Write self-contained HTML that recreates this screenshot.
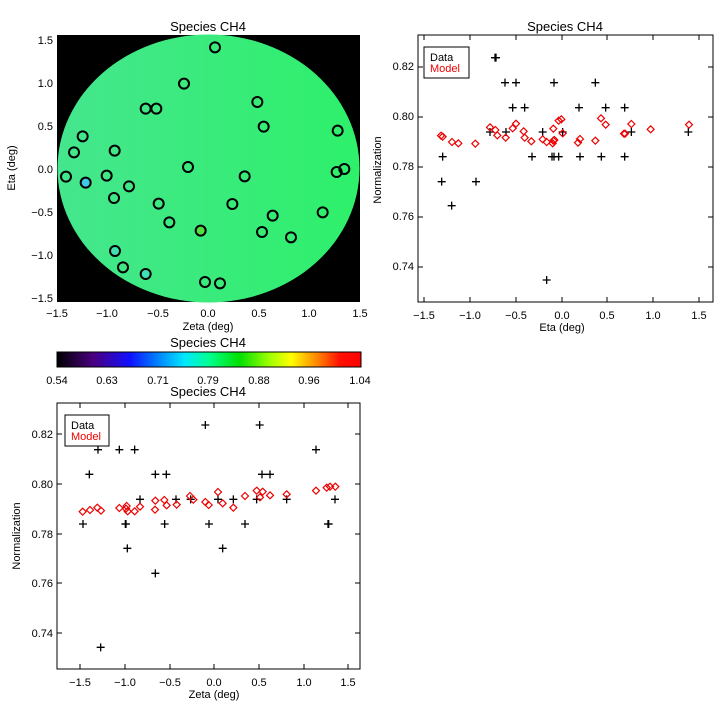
<!DOCTYPE html>
<html><head><meta charset="utf-8"><style>
body{margin:0;background:#fff}
svg{display:block}
text{font-family:"Liberation Sans","DejaVu Sans",sans-serif;font-size:11px;fill:#000}
.t{font-size:13px}
</style></head><body>
<svg id="s" width="720" height="720" viewBox="0 0 720 720" xmlns="http://www.w3.org/2000/svg">
<defs>
<linearGradient id="fg" x1="0" x2="1" y1="0" y2="0">
<stop offset="0" stop-color="#45e68e"/><stop offset="1" stop-color="#2ef06a"/></linearGradient>
<linearGradient id="cb" x1="0" x2="1" y1="0" y2="0">
<stop offset="0" stop-color="#000"/><stop offset="0.12" stop-color="#4a0080"/>
<stop offset="0.24" stop-color="#1010ff"/><stop offset="0.33" stop-color="#0080ff"/>
<stop offset="0.42" stop-color="#00e8ff"/><stop offset="0.5" stop-color="#00ff90"/>
<stop offset="0.6" stop-color="#00e000"/><stop offset="0.7" stop-color="#a0ff00"/>
<stop offset="0.77" stop-color="#ffff00"/><stop offset="0.86" stop-color="#ff8000"/>
<stop offset="0.93" stop-color="#ff1000"/><stop offset="1" stop-color="#ff0000"/></linearGradient>
</defs>
<!-- top-left map -->
<text class="t" x="208" y="31" text-anchor="middle">Species CH4</text>
<rect x="57" y="35" width="303" height="267" fill="#000"/>
<ellipse cx="208.5" cy="168.5" rx="151" ry="134" fill="url(#fg)"/>
<g id="circ" fill="none" stroke="#000" stroke-width="2"></g>
<g text-anchor="end">
<text x="53" y="44">1.5</text><text x="53" y="87">1.0</text><text x="53" y="130">0.5</text><text x="53" y="173">0.0</text><text x="53" y="216">−0.5</text><text x="53" y="259">−1.0</text><text x="53" y="302">−1.5</text></g>
<g text-anchor="middle">
<text x="57" y="317">−1.5</text><text x="107" y="317">−1.0</text><text x="158" y="317">−0.5</text><text x="208" y="317">0.0</text><text x="259" y="317">0.5</text><text x="309" y="317">1.0</text><text x="360" y="317">1.5</text>
<text x="208" y="330" font-size="10">Zeta (deg)</text></g>
<text transform="translate(15,168) rotate(-90)" text-anchor="middle" font-size="10">Eta (deg)</text>
<!-- colorbar -->
<text class="t" x="208" y="347" text-anchor="middle">Species CH4</text>
<rect x="57" y="352" width="304" height="15" fill="url(#cb)" stroke="#000"/>
<g text-anchor="middle">
<text x="57" y="384">0.54</text><text x="107" y="384">0.63</text><text x="158" y="384">0.71</text><text x="208" y="384">0.79</text><text x="259" y="384">0.88</text><text x="309" y="384">0.96</text><text x="360" y="384">1.04</text>
<text class="t" x="208" y="396">Species CH4</text></g>
<!-- top-right -->
<text class="t" x="565" y="31" text-anchor="middle">Species CH4</text>
<rect x="418" y="35" width="295" height="267" fill="none" stroke="#000"/>
<g id="tr"></g>
<rect x="424" y="47" width="45" height="31" fill="none" stroke="#000"/>
<text x="430" y="61" font-size="10">Data</text><text x="430" y="72" font-size="10" style="fill:#e00">Model</text>
<g text-anchor="end">
<text x="414" y="70">0.82</text><text x="414" y="120">0.80</text><text x="414" y="170">0.78</text><text x="414" y="220">0.76</text><text x="414" y="270">0.74</text></g>
<g text-anchor="middle">
<text x="424" y="319">−1.5</text><text x="470" y="319">−1.0</text><text x="516" y="319">−0.5</text><text x="562" y="319">0.0</text><text x="607" y="319">0.5</text><text x="653" y="319">1.0</text><text x="699" y="319">1.5</text>
<text x="562" y="331" font-size="10">Eta (deg)</text></g>
<text transform="translate(381,170) rotate(-90)" text-anchor="middle" font-size="10">Normalization</text>
<!-- bottom -->
<rect x="57" y="403" width="303" height="266" fill="none" stroke="#000"/>
<g id="bt"></g>
<rect x="65" y="415" width="44" height="31" fill="none" stroke="#000"/>
<text x="71" y="429" font-size="10">Data</text><text x="71" y="440" font-size="10" style="fill:#e00">Model</text>
<g text-anchor="end">
<text x="53" y="438">0.82</text><text x="53" y="488">0.80</text><text x="53" y="538">0.78</text><text x="53" y="587">0.76</text><text x="53" y="637">0.74</text></g>
<g text-anchor="middle">
<text x="80" y="686">−1.5</text><text x="125" y="686">−1.0</text><text x="170" y="686">−0.5</text><text x="214" y="686">0.0</text><text x="259" y="686">0.5</text><text x="304" y="686">1.0</text><text x="348" y="686">1.5</text>
<text x="214" y="698" font-size="10">Zeta (deg)</text></g>
<text transform="translate(20,536) rotate(-90)" text-anchor="middle" font-size="10">Normalization</text>
</svg>
<script>
var NS="http://www.w3.org/2000/svg";
function el(p,t,a){var e=document.createElementNS(NS,t);for(var k in a)e.setAttribute(k,a[k]);p.appendChild(e);}
var circ=document.getElementById('circ');
var C=[[645,82],[552,191],[437,266],[469,266],[772,246],[791,320],[1013,332],[248,349],[222,397],[344,392],[564,441],[1033,447],[1010,456],[198,470],[320,467],[257,488,'#3fc8e8'],[387,499],[734,469],[342,534],[476,551],[697,552],[968,577],[508,607],[818,587],[602,632,'#50e040'],[786,636],[873,652],[345,693,'#40e0b0'],[369,742],[437,762,'#40e0b8'],[615,786],[660,790]];
C.forEach(function(c){el(circ,'circle',{cx:c[0]/3,cy:20+c[1]/3,r:5,fill:c[2]||'none'});});
function plus(g,x,y){el(g,'path',{d:'M'+(x-4)+' '+y+'h8M'+x+' '+(y-4)+'v8',stroke:'#000','stroke-width':1.3});}
function dia(g,x,y){el(g,'path',{d:'M'+x+' '+(y-3.5)+'l3.5 3.5l-3.5 3.5l-3.5 -3.5z',stroke:'#e00','stroke-width':1.2,fill:'none'});}
var tr=document.getElementById('tr');
[[378,113],[375,113],[405,188],[438,188],[552,188],[676,188],[428,263],[464,263],[627,263],[707,263],[764,263],[360,336],[408,336],[518,336],[578,336],[784,336],[955,336],[218,410],[486,410],[546,410],[552,410],[566,410],[630,410],[694,410],[764,410],[215,485],[318,485],[245,557],[530,780]].forEach(function(p){plus(tr,370+p[0]/3,20+p[1]/3);});
[[213,347],[218,350],[246,366],[265,370],[316,371],[360,322],[376,330],[382,346],[407,353],[428,325],[438,311],[461,334],[464,353],[484,364],[518,358],[530,366],[548,370],[550,362],[553,360],[550,326],[566,302],[574,298],[578,340],[624,368],[630,357],[676,362],[693,295],[707,314],[762,341],[765,341],[784,312],[842,328],[957,314]].forEach(function(p){dia(tr,370+p[0]/3,20+p[1]/3);});
var bt=document.getElementById('bt');
[[249,432],[294,209],[268,283],[358,209],[404,209],[378,432],[376,432],[382,505],[420,358],[466,283],[499,283],[466,580],[302,802],[494,432],[528,358],[572,358],[616,135],[654,358],[627,432],[668,505],[700,358],[735,432],[770,358],[779,135],[786,283],[810,283],[860,358],[948,209],[984,432],[986,432],[1005,358]].forEach(function(p){plus(bt,p[0]/3,380+p[1]/3);});
[[248,395],[270,390],[292,383],[303,392],[358,384],[378,386],[380,378],[383,394],[404,394],[420,380],[466,362],[465,389],[493,360],[500,376],[530,374],[570,348],[580,359],[616,366],[626,375],[654,336],[668,370],[700,383],[735,348],[770,332],[780,352],[788,335],[810,346],[860,343],[948,332],[980,323],[990,320],[1006,320]].forEach(function(p){dia(bt,p[0]/3,380+p[1]/3);});
// ticks
function ticks(x0,x1,y0,y1,xs,ys){var s=document.getElementById('s');xs.forEach(function(x){el(s,'path',{d:'M'+x+' '+y1+'v-5M'+x+' '+y0+'v5',stroke:'#000'});});ys.forEach(function(y){el(s,'path',{d:'M'+x0+' '+y+'h5M'+x1+' '+y+'h-5',stroke:'#000'});});}
ticks(418,713,35,302,[424,470,516,562,607,653,699],[67,117,167,217,267]);
ticks(57,360,403,669,[80,125,170,214,259,304,348],[434,484,534,583,633]);
</script>
</body></html>
